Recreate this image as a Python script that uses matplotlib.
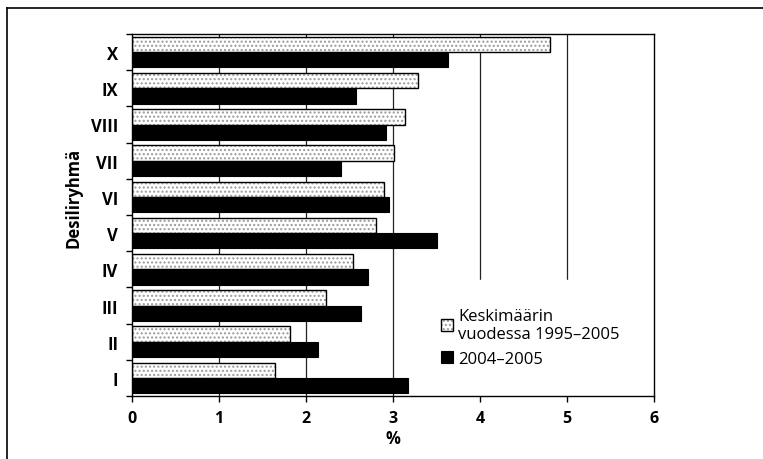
#!/usr/bin/env python3
"""Desiiliryhmät: keskimäärin vuodessa 1995-2005 vs 2004-2005."""

import matplotlib
matplotlib.use('Agg')
import matplotlib.pyplot as plt
from matplotlib.lines import Line2D
import numpy as np

plt.rcParams['font.family'] = ['Open Sans', 'DejaVu Sans']

# data, bottom (I) to top (X)
groups = ["I", "II", "III", "IV", "V", "VI", "VII", "VIII", "IX", "X"]
avg_95_05 = [1.64, 1.82, 2.23, 2.54, 2.81, 2.90, 3.01, 3.14, 3.29, 4.81]
val_04_05 = [3.17, 2.14, 2.63, 2.71, 3.51, 2.95, 2.40, 2.92, 2.57, 3.63]
xticks = [0, 1, 2, 3, 4, 5, 6]

LABEL_AVG = "Keskimäärin\nvuodessa 1995\u20132005"
LABEL_NEW = "2004\u20132005"

W, H = 763, 460
DPI = 100
BAR_H = 0.42


def main():
    fig = plt.figure(figsize=(W / DPI, H / DPI), dpi=DPI)
    fig.patch.set_facecolor("white")
    ax = fig.add_axes([132 / W, 1 - 397 / H, (654 - 132) / W, (397 - 35) / H])

    y = np.arange(len(groups))

    # speckled light bars: hatch fill + black outline
    light = ax.barh(y + BAR_H / 2, avg_95_05, height=BAR_H, color="white",
                    edgecolor="#9a9a9a", hatch="....", linewidth=0, zorder=3)
    outline = ax.barh(y + BAR_H / 2, avg_95_05, height=BAR_H, fill=False,
                      edgecolor="black", linewidth=1.0, zorder=4)
    dark = ax.barh(y - BAR_H / 2, val_04_05, height=BAR_H, color="black",
                   edgecolor="black", linewidth=0.8, zorder=3)

    ax.set_xlim(0, 6)
    ax.set_ylim(-0.5, len(groups) - 0.5)
    ax.set_xticks(xticks)
    ax.set_xticklabels([str(t) for t in xticks], fontsize=11.5, fontweight="bold")
    ax.set_yticks(y)
    ax.set_yticklabels(groups, fontsize=12, fontweight="bold")
    ax.set_yticks(np.arange(-0.5, len(groups), 1.0), minor=True)
    ax.tick_params(axis="y", which="major", length=0, pad=10)
    ax.tick_params(axis="y", which="minor", length=4, width=1, direction="out")
    ax.tick_params(axis="x", length=4, width=1, direction="out", pad=6)

    for xv in xticks[1:-1]:
        ax.axvline(xv, color="#222222", lw=0.9, zorder=1)

    for s in ax.spines.values():
        s.set_linewidth(1.0)
        s.set_color("black")
        s.set_zorder(6)

    ax.set_xlabel("%", fontsize=12, fontweight="bold", labelpad=2)
    ax.set_ylabel("Desiliryhmä", fontsize=12, fontweight="bold")
    ax.yaxis.set_label_coords(-0.095, 0.55)

    leg = ax.legend([(light, outline), dark], [LABEL_AVG, LABEL_NEW],
                    loc="lower left", bbox_to_anchor=(0.537, 0.003),
                    frameon=True, fontsize=12, handlelength=0.75,
                    handleheight=0.75, handletextpad=0.3, labelspacing=0.5,
                    borderaxespad=0, borderpad=1.7, fancybox=False)
    leg.get_texts()[0].set_linespacing(1.2)
    leg.get_frame().set_edgecolor("white")
    leg.get_frame().set_facecolor("white")
    leg.get_frame().set_alpha(1)
    leg.set_zorder(5)

    # outer frame of the scanned page (top and left edges)
    fig.add_artist(Line2D([7 / W, 1.0], [1 - 9 / H, 1 - 9 / H],
                          transform=fig.transFigure, color="black", lw=1.2))
    fig.add_artist(Line2D([7 / W, 7 / W], [0.0, 1 - 9 / H],
                          transform=fig.transFigure, color="black", lw=1.2))

    fig.savefig("out.png", dpi=DPI, facecolor="white")
    plt.close(fig)


if __name__ == "__main__":
    main()
